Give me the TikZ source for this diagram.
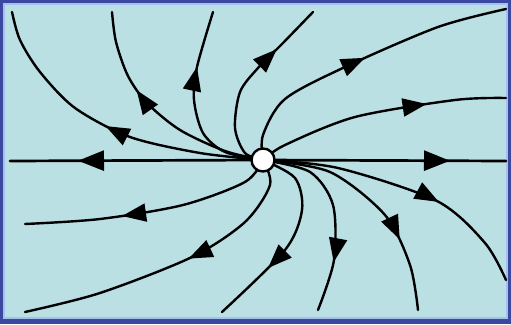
\documentclass[tikz,border=0pt]{standalone}
\usetikzlibrary{arrows.meta,decorations.markings}
\definecolor{bgc}{RGB}{186,224,228}
\definecolor{framedark}{RGB}{58,72,160}
\definecolor{framelight}{RGB}{165,192,238}
\tikzset{
  flow/.style={line width=2.4pt, black, line cap=round},
  arrowat/.style={postaction={decorate}, decoration={markings,
      mark=at position #1 with {\arrow{Triangle[length=24pt,width=18pt]}}}},
  bigarrowat/.style={postaction={decorate}, decoration={markings,
      mark=at position #1 with {\arrow{Triangle[length=26pt,width=20pt]}}}},
  source/.style={circle, draw=black, fill=white, line width=2.4pt, minimum size=23pt, inner sep=0pt}
}
\begin{document}
\begin{tikzpicture}[x=1pt,y=-1pt]
\useasboundingbox (0,0) rectangle (511,324);
\fill[framedark] (0,0) rectangle (511,324);
\fill[framelight] (3,3) rectangle (508,319);
\fill[bgc] (5,5) rectangle (506,317);
\coordinate (c) at (263,160);
% horizontal
\draw[flow, line width=2.7pt, bigarrowat=185pt] (c) -- (10,161) coordinate (hl);
\draw[flow, line width=2.7pt, bigarrowat=187pt] (c) -- (506,161) coordinate (hr);
% upper curves
\draw[flow, arrowat=162pt] plot[smooth] coordinates {(c) (200,153) (130,137) (75,108) (40,72) (20,40) (12,12)};
\draw[flow, arrowat=148pt] plot[smooth] coordinates {(c) (225,151) (180,130) (147,103) (128,76) (116,42) (112,12)};
\draw[flow, arrowat=136pt] plot[smooth] coordinates {(c) (225,152) (203,133) (194,100) (197,67) (213,12)};
\draw[flow, arrowat=140pt] plot[smooth] coordinates {(c) (245,153) (235,128) (240,92) (258,68) (282,44) (313,12)};
\draw[flow, arrowat=158pt] plot[smooth] coordinates {(c) (263,135) (285,99) (345,67) (438,27) (506,9)};
\draw[flow, arrowat=175pt] plot[smooth] coordinates {(c) (285,145) (355,117) (455,100) (506,98)};
% lower curves
\draw[flow, arrowat=157pt] plot[smooth] coordinates {(c) (245,182) (183,205) (100,219) (25,224)};
\draw[flow, arrowat=139pt] plot[smooth] coordinates {(c) (270,185) (245,222) (192,257) (100,293) (25,312)};
\draw[flow, arrowat=139pt] plot[smooth] coordinates {(c) (295,178) (302,210) (285,250) (222,312)};
\draw[flow, arrowat=147pt] plot[smooth] coordinates {(c) (310,172) (333,205) (334,260) (318,310)};
\draw[flow, arrowat=167pt] plot[smooth] coordinates {(c) (330,172) (385,215) (410,265) (418,310)};
\draw[flow, arrowat=182pt] plot[smooth] coordinates {(c) (338,168) (437,201) (485,243) (506,280)};
\node[source] (src) at (c) {};
\end{tikzpicture}
\end{document}
